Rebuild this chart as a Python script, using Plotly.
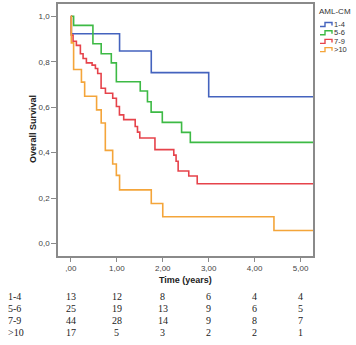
import plotly.graph_objects as go

# ---- data ----
groups = ["1-4", "5-6", "7-9", ">10"]
colors = ["#4463BE", "#3DBA45", "#E6434B", "#F4A53A"]

t_14 = [0, 0.01, 1.06, 1.75, 3.0, 5.27]
s_14 = [1.0, 0.923, 0.847, 0.752, 0.646, 0.646]

t_56 = [0, 0.06, 0.48, 0.66, 0.88, 0.99, 1.51, 1.667, 1.747, 1.99, 2.41, 2.6, 5.27]
s_56 = [1.0, 0.96, 0.879, 0.835, 0.795, 0.712, 0.671, 0.624, 0.578, 0.533, 0.489, 0.445, 0.445]

t_79 = [0, 0.01, 0.048, 0.12, 0.207, 0.266, 0.338, 0.462, 0.534, 0.584, 0.658, 0.752,
        0.911, 0.991, 1.057, 1.15, 1.40, 1.45, 1.50, 1.83, 2.24, 2.29, 2.335, 2.566, 2.75, 5.27]
s_79 = [1.0, 0.917, 0.89, 0.872, 0.835, 0.814, 0.795, 0.785, 0.77, 0.748, 0.683, 0.661,
        0.639, 0.603, 0.566, 0.545, 0.515, 0.49, 0.464, 0.413, 0.389, 0.362, 0.319, 0.297, 0.263, 0.263]

t_10 = [0, 0.01, 0.06, 0.23, 0.30, 0.56, 0.66, 0.75, 0.91, 0.99, 1.06, 1.75, 2.0, 4.42, 5.27]
s_10 = [1.0, 0.883, 0.766, 0.71, 0.648, 0.588, 0.53, 0.41, 0.35, 0.30, 0.236, 0.176, 0.118, 0.057, 0.057]

times = [t_14, t_56, t_79, t_10]
surv = [s_14, s_56, s_79, s_10]

x_ticks = [0, 1, 2, 3, 4, 5]
x_tick_labels = [",00", "1,00", "2,00", "3,00", "4,00", "5,00"]
y_ticks = [0, 0.2, 0.4, 0.6, 0.8, 1.0]
y_tick_labels = ["0,0", "0,2", "0,4", "0,6", "0,8", "1,0"]

risk_times = [0, 1, 2, 3, 4, 5]
risk_14 = [13, 12, 8, 6, 4, 4]
risk_56 = [25, 19, 13, 9, 6, 5]
risk_79 = [44, 28, 14, 9, 8, 7]
risk_10 = [17, 5, 3, 2, 2, 1]
risk = [risk_14, risk_56, risk_79, risk_10]

# ---- figure ----
W, H = 356, 345
ML, MR, MT, MB = 58, 43, 2, 89
PW, PH = W - ML - MR, H - MT - MB


def px_x(px):
    return (px - ML) / PW


def px_y(py):
    return (H - MB - py) / PH


fig = go.Figure()
for g, c, t, s in zip(groups, colors, times, surv):
    fig.add_trace(go.Scatter(x=t, y=s, mode="lines", line=dict(color=c, width=1.6, shape="hv"),
                             name=g, showlegend=False, hoverinfo="skip"))

axis_col = "#8a8a8a"
tick_font = dict(family="Liberation Sans, Arial", size=8, color="#444")
fig.update_xaxes(range=[-0.28, 5.27], tickvals=x_ticks, ticktext=x_tick_labels,
                 showgrid=False, zeroline=False, showline=True, linecolor=axis_col, linewidth=1.5,
                 mirror=True, ticks="outside", ticklen=4, tickcolor=axis_col, tickfont=tick_font)
fig.update_yaxes(range=[-0.055, 1.054], tickvals=y_ticks, ticktext=y_tick_labels,
                 showgrid=False, zeroline=False, showline=True, linecolor=axis_col, linewidth=1.5,
                 mirror=True, ticks="outside", ticklen=5, tickcolor=axis_col, tickfont=tick_font)

ann = []
# axis titles
ann.append(dict(text="<b>Overall Survival</b>", xref="paper", yref="paper", x=px_x(33), y=px_y(128),
                xanchor="center", yanchor="middle",
                textangle=-90, showarrow=False, font=dict(family="Liberation Sans, Arial", size=9, color="#222")))
ann.append(dict(text="<b>Time (years)</b>", xref="paper", yref="paper", x=px_x(185), y=px_y(280),
                xanchor="center", yanchor="middle",
                showarrow=False, font=dict(family="Liberation Sans, Arial", size=9, color="#222")))

# risk table
row_y = [296.7, 308.7, 320.7, 332.7]
serif = dict(family="Liberation Serif, Times New Roman", size=10, color="#222")
for g, r, ry in zip(groups, risk, row_y):
    ann.append(dict(text=g, xref="paper", yref="paper", x=px_x(6), y=px_y(ry), xanchor="left",
                    yanchor="middle", showarrow=False, font=serif))
    for tt, v in zip(risk_times, r):
        ann.append(dict(text=str(v), xref="x", yref="paper", x=tt, y=px_y(ry), xanchor="center",
                        yanchor="middle", showarrow=False, font=serif))

# legend (manual)
ann.append(dict(text="AML-CM", xref="paper", yref="paper", x=px_x(317), y=px_y(10), xanchor="left",
                yanchor="middle", showarrow=False,
                font=dict(family="Liberation Sans, Arial", size=8, color="#333")))
leg_y = [22.7, 31.0, 39.7, 48.0]
shapes = []
for g, c, ly in zip(groups, colors, leg_y):
    x0, x1, x2 = px_x(320), px_x(325), px_x(332)
    yl, yh, ye = px_y(ly + 2), px_y(ly - 2), px_y(ly + 1)
    shapes.append(dict(type="path", xref="paper", yref="paper",
                       path=f"M {x0} {yl} L {x1} {yl} L {x1} {yh} L {x2} {yh} L {x2} {ye}",
                       line=dict(color=c, width=1.4)))
    ann.append(dict(text=g, xref="paper", yref="paper", x=px_x(332), y=px_y(ly), xanchor="left",
                    yanchor="middle", showarrow=False,
                    font=dict(family="Liberation Sans, Arial", size=7.5, color="#333")))

fig.update_layout(width=W, height=H, margin=dict(l=ML, r=MR, t=MT, b=MB),
                  plot_bgcolor="white", paper_bgcolor="white", annotations=ann, shapes=shapes,
                  showlegend=False, hovermode=False)
fig.write_html("out.html", config={"displayModeBar": False},
               post_script="document.body.style.margin='0';document.body.style.overflow='hidden';")
